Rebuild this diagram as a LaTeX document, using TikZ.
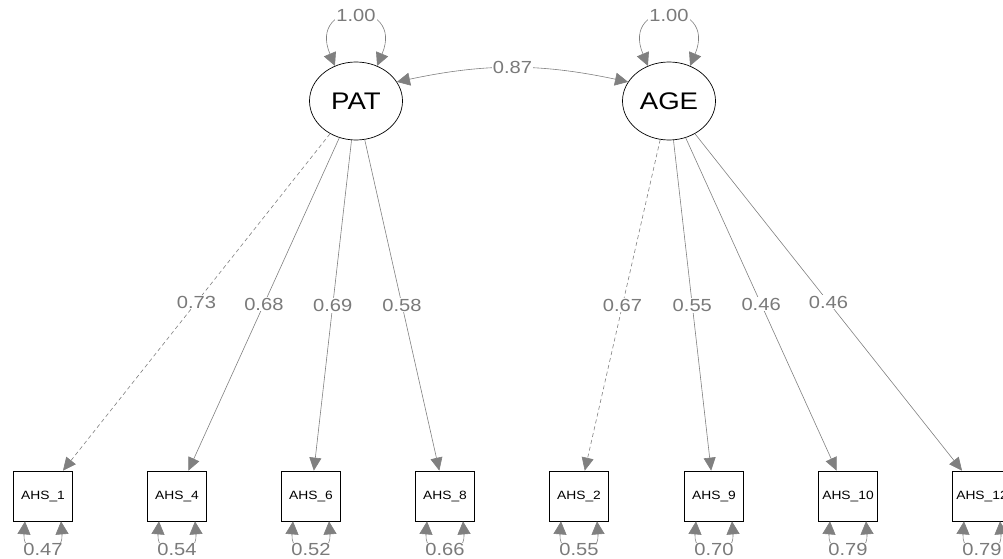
\documentclass[tikz,border=0pt]{standalone}
\usepackage{fontspec}
\newfontfamily\semfont[FakeStretch=1.15]{Liberation Sans}
\usetikzlibrary{arrows.meta,shapes.geometric,calc}
\definecolor{edgegray}{RGB}{128,128,128}
\definecolor{labelgray}{RGB}{122,122,122}

\begin{document}
\begin{tikzpicture}[x=1pt,y=-1pt,
  latent/.style={ellipse,draw=black,line width=0.7pt,minimum width=93pt,
    minimum height=78pt,inner sep=0pt,font=\semfont\fontsize{24}{24}\selectfont},
  manifest/.style={rectangle,draw=black,line width=0.7pt,minimum width=59pt,
    minimum height=50pt,inner sep=0pt,font=\semfont\fontsize{12}{12}\selectfont},
  loading/.style={draw=edgegray,line width=0.6pt,-{Triangle[length=13pt,width=12pt]}},
  fixedload/.style={loading,dash pattern=on 4pt off 3pt},
  varloop/.style={draw=edgegray,line width=0.6pt,
    {Triangle[length=13pt,width=13pt]}-{Triangle[length=13pt,width=13pt]}},
  coef/.style={fill=white,text=labelgray,inner sep=1pt,
    font=\semfont\fontsize{17.5}{17.5}\selectfont}
]
\path[use as bounding box] (0,0) rectangle (1003,559);
\clip (0,0) rectangle (1003,559);

% latent factors
\node[latent] (PAT) at (356,101) {PAT};
\node[latent] (AGE) at (669,101) {AGE};

% indicators
\node[manifest] (A1)  at (43,496)  {AHS\_1};
\node[manifest] (A4)  at (177,496) {AHS\_4};
\node[manifest] (A6)  at (311,496) {AHS\_6};
\node[manifest] (A8)  at (445,496) {AHS\_8};
\node[manifest] (A2)  at (579,496) {AHS\_2};
\node[manifest] (A9)  at (714,496) {AHS\_9};
\node[manifest] (A10) at (848,496) {AHS\_10};
\node[manifest] (A12) at (982,496) {AHS\_12};

% factor variances
\draw[varloop] (PAT.121) .. controls +(-28,-67) and +(28,-67) .. node[coef]{1.00} (PAT.59);
\draw[varloop] (AGE.121) .. controls +(-28,-67) and +(28,-67) .. node[coef]{1.00} (AGE.59);

% factor covariance
\draw[varloop] (PAT.25) to[bend left=12] node[coef]{0.87} (AGE.155);

% loadings
\draw[fixedload] (PAT) -- node[coef]{0.73} (A1);
\draw[loading]   (PAT) -- node[coef]{0.68} (A4);
\draw[loading]   (PAT) -- node[coef]{0.69} (A6);
\draw[loading]   (PAT) -- node[coef]{0.58} (A8);
\draw[fixedload] (AGE) -- node[coef]{0.67} (A2);
\draw[loading]   (AGE) -- node[coef]{0.55} (A9);
\draw[loading]   (AGE) -- node[coef]{0.46} (A10);
\draw[loading]   (AGE) -- node[coef]{0.46} (A12);

% residual variances
\foreach \n/\v in {A1/0.47,A4/0.54,A6/0.52,A8/0.66,A2/0.55,A9/0.70,A10/0.79,A12/0.79}
  \draw[varloop] ($(\n.south)+(-18,0)$) .. controls +(-3,38) and +(3,38) ..
    node[coef]{\v} ($(\n.south)+(18,0)$);
\end{tikzpicture}
\end{document}
